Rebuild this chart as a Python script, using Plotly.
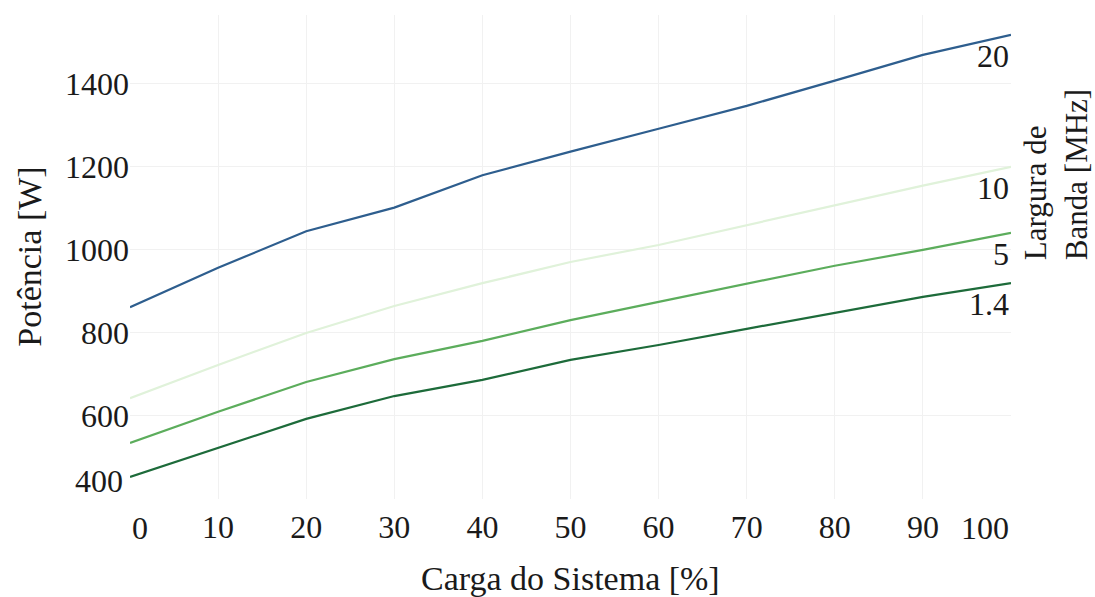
import plotly.graph_objects as go

carga = [0, 10, 20, 30, 40, 50, 60, 70, 80, 90, 100]
bw_labels = ["20", "10", "5", "1.4"]
p_20 = [862, 957, 1045, 1102, 1180, 1237, 1292, 1347, 1408, 1470, 1518]
p_10 = [643, 723, 800, 865, 920, 971, 1012, 1060, 1108, 1155, 1200]
p_5 = [535, 610, 682, 737, 781, 831, 875, 918, 962, 1000, 1041]
p_1_4 = [453, 523, 593, 648, 687, 735, 771, 810, 848, 887, 920]
series = [p_20, p_10, p_5, p_1_4]
colors = ["#2e5e8e", "#e0f2da", "#5cad5c", "#1d6b3a"]

x_ticks = [0, 10, 20, 30, 40, 50, 60, 70, 80, 90, 100]
y_ticks = [400, 600, 800, 1000, 1200, 1400]

FONT = "Liberation Serif, Times New Roman, serif"
TXT = "#1a1a1a"
TICK = 32

fig = go.Figure()
for name, ys, col in zip(bw_labels, series, colors):
    fig.add_trace(go.Scatter(x=carga, y=ys, mode="lines", name=name,
                             line=dict(color=col, width=2.2), showlegend=False))

annotations = []
for name, ys in zip(bw_labels, series):
    annotations.append(dict(x=carga[-1], y=ys[-1], xref="x", yref="y", text=name,
                            showarrow=False, xanchor="right", yanchor="top", yshift=-1,
                            font=dict(family=FONT, size=TICK, color=TXT)))
# edge tick labels shifted inward
annotations.append(dict(x=x_ticks[0], y=0, xref="x", yref="paper", text=str(x_ticks[0]),
                        showarrow=False, xanchor="left", yanchor="top", yshift=-9,
                        font=dict(family=FONT, size=TICK, color=TXT)))
annotations.append(dict(x=x_ticks[-1], y=0, xref="x", yref="paper", text=str(x_ticks[-1]),
                        showarrow=False, xanchor="right", yanchor="top", yshift=-9,
                        font=dict(family=FONT, size=TICK, color=TXT)))
annotations.append(dict(x=0, y=y_ticks[0], xref="paper", yref="y", text=str(y_ticks[0]),
                        showarrow=False, xanchor="right", yanchor="bottom", xshift=-5, yshift=-2,
                        font=dict(family=FONT, size=TICK, color=TXT)))
# titles
annotations.append(dict(x=0.5, y=-0.165, xref="paper", yref="paper", text="Carga do Sistema [%]",
                        showarrow=False, xanchor="center", yanchor="middle",
                        font=dict(family=FONT, size=34, color=TXT)))
annotations.append(dict(x=-0.115, y=0.5, xref="paper", yref="paper", text="Potência [W]",
                        showarrow=False, xanchor="center", yanchor="middle", textangle=-90,
                        font=dict(family=FONT, size=34, color=TXT)))
annotations.append(dict(x=1.006, y=0.49, xref="paper", yref="paper",
                        text="Largura de<br>Banda [MHz]", align="left",
                        showarrow=False, xanchor="left", yanchor="bottom", textangle=-90,
                        font=dict(family=FONT, size=31, color=TXT)))

fig.update_layout(
    width=1095, height=597,
    margin=dict(l=130, r=84, t=15, b=98),
    paper_bgcolor="white", plot_bgcolor="white",
    font=dict(family=FONT, size=TICK, color=TXT),
    annotations=annotations,
)
fig.update_xaxes(range=[0, 100], tickvals=x_ticks,
                 ticktext=[""] + [str(v) for v in x_ticks[1:-1]] + [""],
                 showgrid=True, gridcolor="#f1f1f1", gridwidth=1, zeroline=False,
                 showline=False, ticks="outside", ticklen=0, tickcolor="rgba(0,0,0,0)",
                 automargin=False, tickfont=dict(family=FONT, size=TICK, color=TXT))
fig.update_yaxes(range=[400, 1566], tickvals=y_ticks,
                 ticktext=[""] + [str(v) for v in y_ticks[1:]],
                 showgrid=True, gridcolor="#f1f1f1", gridwidth=1, zeroline=False,
                 showline=False, ticks="",
                 automargin=False, tickfont=dict(family=FONT, size=TICK, color=TXT))

fig.write_html("out.html", config={"displayModeBar": False},
               post_script="document.body.style.margin='0';document.body.style.overflow='hidden';")
